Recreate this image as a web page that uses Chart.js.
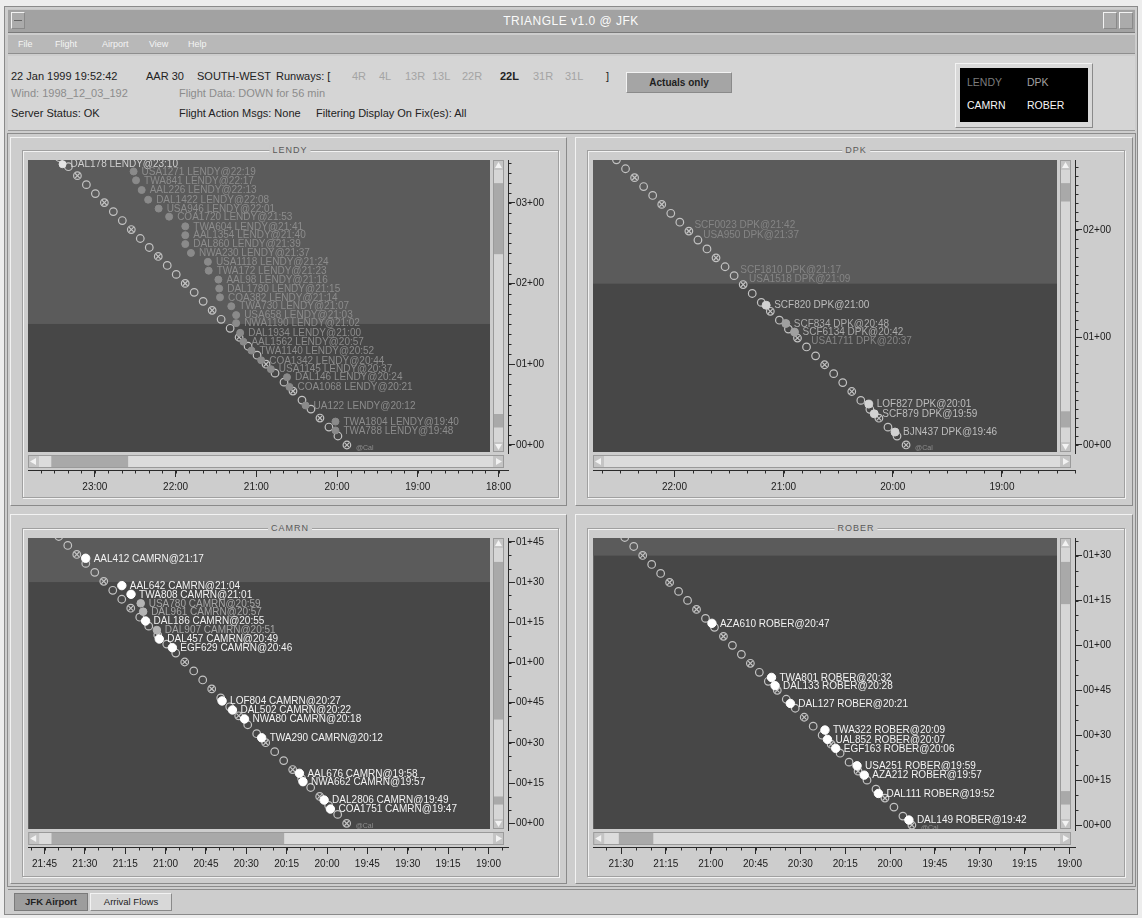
<!DOCTYPE html>
<html>
<head>
<meta charset="utf-8">
<title>TRIANGLE v1.0 @ JFK</title>
<script src="https://cdn.jsdelivr.net/npm/chart.js@4.4.1/dist/chart.umd.min.js"></script>
<style>
body { margin:0; width:1142px; height:918px; background:#ededed; position:relative; overflow:hidden;
       font-family:"Liberation Sans", Arial, sans-serif; }
.abs { position:absolute; white-space:nowrap; }
.txt { font-size:11px; line-height:14px; color:#222; }
.dim { color:#8c8c8c; }
.light { color:#a4a4a4; }
.raised { border-top:1px solid #f2f2f2; border-left:1px solid #f2f2f2; border-right:1px solid #8a8a8a; border-bottom:1px solid #8a8a8a; box-sizing:border-box; }
.groove { border:1px solid #a0a0a0; box-shadow:1px 1px 0 #f2f2f2, inset 1px 1px 0 #f2f2f2; box-sizing:border-box; }
.ftitle { font-size:9px; line-height:10px; color:#5a5a5a; letter-spacing:1px; background:#cdcdcd; padding:0 3px; transform:translateX(-50%); }
canvas { position:absolute; }
</style>
</head>
<body>
<div class="abs" style="left:4px;top:6px;width:1134px;height:909px;background:#cdcdcd;border:1px solid #8a8a8a;box-sizing:border-box;"></div>

<!-- title bar -->
<div class="abs" style="left:8px;top:9px;width:1127px;height:24px;background:#a2a2a2;border-top:1px solid #c6c6c6;border-bottom:1px solid #7a7a7a;box-sizing:border-box;"></div>
<div class="abs raised" style="left:11px;top:12px;width:14px;height:17px;background:#ababab;"></div>
<div class="abs" style="left:14px;top:20px;width:8px;height:1px;background:#666;"></div>
<div class="abs raised" style="left:1103px;top:12px;width:14px;height:17px;background:#ababab;"></div>
<div class="abs raised" style="left:1119px;top:12px;width:14px;height:17px;background:#ababab;"></div>
<div class="abs" style="left:0;top:14px;width:1142px;text-align:center;font-size:12px;line-height:14px;color:#fafafa;letter-spacing:0.5px;">TRIANGLE v1.0 @ JFK</div>

<!-- menu bar -->
<div class="abs" style="left:8px;top:35px;width:1127px;height:19px;background:#b8b8b8;border-bottom:1px solid #8e8e8e;box-sizing:border-box;"></div>
<div class="abs" style="left:18px;top:39px;font-size:9px;line-height:11px;color:#f4f4f4;">File</div>
<div class="abs" style="left:55px;top:39px;font-size:9px;line-height:11px;color:#f4f4f4;">Flight</div>
<div class="abs" style="left:102px;top:39px;font-size:9px;line-height:11px;color:#f4f4f4;">Airport</div>
<div class="abs" style="left:149px;top:39px;font-size:9px;line-height:11px;color:#f4f4f4;">View</div>
<div class="abs" style="left:188px;top:39px;font-size:9px;line-height:11px;color:#f4f4f4;">Help</div>

<!-- status header -->
<div class="abs" style="left:8px;top:56px;width:1127px;height:75px;background:#d5d5d5;border-bottom:1px solid #9a9a9a;box-sizing:border-box;"></div>
<div class="abs txt" style="left:11px;top:69px;">22 Jan 1999 19:52:42</div>
<div class="abs txt" style="left:146px;top:69px;">AAR 30</div>
<div class="abs txt" style="left:197px;top:69px;">SOUTH-WEST</div>
<div class="abs txt" style="left:276px;top:69px;">Runways: [</div>
<div class="abs txt light" style="left:352px;top:69px;">4R</div>
<div class="abs txt light" style="left:379px;top:69px;">4L</div>
<div class="abs txt light" style="left:405px;top:69px;">13R</div>
<div class="abs txt light" style="left:432px;top:69px;">13L</div>
<div class="abs txt light" style="left:462px;top:69px;">22R</div>
<div class="abs txt" style="left:500px;top:69px;font-weight:bold;">22L</div>
<div class="abs txt light" style="left:533px;top:69px;">31R</div>
<div class="abs txt light" style="left:565px;top:69px;">31L</div>
<div class="abs txt" style="left:606px;top:69px;">]</div>
<div class="abs txt dim" style="left:11px;top:86px;">Wind: 1998_12_03_192</div>
<div class="abs txt dim" style="left:179px;top:86px;">Flight Data: DOWN for 56 min</div>
<div class="abs txt" style="left:11px;top:106px;">Server Status: OK</div>
<div class="abs txt" style="left:179px;top:106px;">Flight Action Msgs: None</div>
<div class="abs txt" style="left:316px;top:106px;">Filtering Display On Fix(es): All</div>
<div class="abs raised" style="left:626px;top:72px;width:106px;height:21px;background:#a5a5a5;font-size:10px;line-height:19px;text-align:center;font-weight:bold;color:#1e1e1e;">Actuals only</div>

<!-- fix legend -->
<div class="abs raised" style="left:955px;top:63px;width:138px;height:65px;background:#d9d9d9;"></div>
<div class="abs" style="left:960px;top:68px;width:128px;height:54px;background:#000;"></div>
<div class="abs" style="left:967px;top:76px;font-size:10.5px;line-height:12px;color:#7c7c7c;">LENDY</div>
<div class="abs" style="left:1027px;top:76px;font-size:10.5px;line-height:12px;color:#a0a0a0;">DPK</div>
<div class="abs" style="left:967px;top:99px;font-size:10.5px;line-height:12px;color:#f6f6f6;">CAMRN</div>
<div class="abs" style="left:1027px;top:99px;font-size:10.5px;line-height:12px;color:#f6f6f6;">ROBER</div>

<!-- panel boxes -->
<div class="abs" style="left:7px;top:133px;width:1129px;height:754px;border:1px solid #8c8c8c;box-sizing:border-box;"></div>
<div class="abs raised" style="left:10px;top:137px;width:557px;height:369px;"></div>
<div class="abs raised" style="left:575px;top:137px;width:558px;height:369px;"></div>
<div class="abs raised" style="left:10px;top:514px;width:557px;height:370px;"></div>
<div class="abs raised" style="left:575px;top:514px;width:558px;height:370px;"></div>
<div class="abs groove" style="left:22px;top:150px;width:537px;height:348px;"></div>
<div class="abs groove" style="left:587px;top:150px;width:538px;height:348px;"></div>
<div class="abs groove" style="left:22px;top:528px;width:537px;height:349px;"></div>
<div class="abs groove" style="left:587px;top:528px;width:538px;height:349px;"></div>
<div class="abs ftitle" style="left:290px;top:145px;">LENDY</div>
<div class="abs ftitle" style="left:856px;top:145px;">DPK</div>
<div class="abs ftitle" style="left:290px;top:523px;">CAMRN</div>
<div class="abs ftitle" style="left:856px;top:523px;">ROBER</div>

<canvas id="lendy"></canvas>
<canvas id="dpk"></canvas>
<canvas id="camrn"></canvas>
<canvas id="rober"></canvas>

<!-- tabs -->
<div class="abs" style="left:8px;top:889px;width:1127px;height:1px;background:#8c8c8c;"></div>
<div class="abs" style="left:14px;top:893px;width:74px;height:18px;background:#9d9d9d;border:1px solid #7a7a7a;box-sizing:border-box;font-size:9.5px;line-height:16px;text-align:center;font-weight:bold;color:#222;">JFK Airport</div>
<div class="abs raised" style="left:90px;top:893px;width:82px;height:18px;background:#d8d8d8;font-size:9.5px;line-height:16px;text-align:center;color:#222;">Arrival Flows</div>

<script>
// time of the snapshot
const nowClock = "19:52:42";
// hours to go where the lighter band starts
const horizonToGo = 1.5;

// LENDY
const lendyXTicks = ["23:00", "22:00", "21:00", "20:00", "19:00", "18:00"];
const lendyYTicks = ["00+00", "01+00", "02+00", "03+00"];
const lendyFlights = [
    "DAL178 LENDY@23:10", "USA1271 LENDY@22:19", "TWA841 LENDY@22:17", "AAL226 LENDY@22:13",
    "DAL1422 LENDY@22:08", "USA946 LENDY@22:01", "COA1720 LENDY@21:53", "TWA604 LENDY@21:41",
    "AAL1354 LENDY@21:40", "DAL860 LENDY@21:39", "NWA230 LENDY@21:37", "USA1118 LENDY@21:24",
    "TWA172 LENDY@21:23", "AAL98 LENDY@21:16", "DAL1780 LENDY@21:15", "COA382 LENDY@21:14",
    "TWA730 LENDY@21:07", "USA658 LENDY@21:03", "NWA1190 LENDY@21:02", "DAL1934 LENDY@21:00",
    "AAL1562 LENDY@20:57", "TWA1140 LENDY@20:52", "COA1342 LENDY@20:44", "USA1145 LENDY@20:37",
    "DAL146 LENDY@20:24", "COA1068 LENDY@20:21", "UA122 LENDY@20:12", "TWA1804 LENDY@19:40",
    "TWA788 LENDY@19:48"
];
const lendyLanding = [
    23.40, 22.52, 22.49, 22.42, 22.34, 22.21, 22.08, 21.88, 21.88, 21.88,
    21.81, 21.60, 21.59, 21.47, 21.46, 21.45, 21.31, 21.25, 21.25, 21.20,
    21.16, 21.06, 20.94, 20.82, 20.62, 20.59, 20.39, 20.02, 20.02
];
const lendyToGo = [
    3.48, 3.39, 3.28, 3.16, 3.04, 2.93, 2.83, 2.71, 2.60, 2.49,
    2.38, 2.27, 2.16, 2.05, 1.94, 1.83, 1.72, 1.61, 1.51, 1.39,
    1.28, 1.17, 1.05, 0.94, 0.84, 0.72, 0.49, 0.29, 0.18
];
const lendyStatus = ["actual"].concat(new Array(28).fill("proposed"));

// DPK
const dpkXTicks = ["22:00", "21:00", "20:00", "19:00"];
const dpkYTicks = ["00+00", "01+00", "02+00"];
const dpkFlights = [
    "SCF0023 DPK@21:42", "USA950 DPK@21:37", "SCF1810 DPK@21:17", "USA1518 DPK@21:09",
    "SCF820 DPK@21:00", "SCF834 DPK@20:48", "SCF6134 DPK@20:42", "USA1711 DPK@20:37",
    "LOF827 DPK@20:01", "SCF879 DPK@19:59", "BJN437 DPK@19:46"
];
const dpkLanding = [21.89, 21.81, 21.47, 21.39, 21.16, 20.98, 20.90, 20.82, 20.22, 20.17, 19.98];
const dpkToGo = [2.05, 1.96, 1.63, 1.55, 1.30, 1.13, 1.05, 0.97, 0.38, 0.29, 0.12];
const dpkStatus = ["proposed", "proposed", "proposed", "proposed", "actual", "planned",
    "planned", "proposed", "actual", "actual", "actual"];

// CAMRN
const camrnXTicks = ["21:45", "21:30", "21:15", "21:00", "20:45", "20:30", "20:15", "20:00",
    "19:45", "19:30", "19:15", "19:00"];
const camrnYTicks = ["00+00", "00+15", "00+30", "00+45", "01+00", "01+15", "01+30", "01+45"];
const camrnFlights = [
    "AAL412 CAMRN@21:17", "AAL642 CAMRN@21:04", "TWA808 CAMRN@21:01", "USA780 CAMRN@20:59",
    "DAL961 CAMRN@20:57", "DAL186 CAMRN@20:55", "DAL907 CAMRN@20:51", "DAL457 CAMRN@20:49",
    "EGF629 CAMRN@20:46", "LOF804 CAMRN@20:27", "DAL502 CAMRN@20:22", "NWA80 CAMRN@20:18",
    "TWA290 CAMRN@20:12", "AAL676 CAMRN@19:58", "NWA662 CAMRN@19:57", "DAL2806 CAMRN@19:49",
    "COA1751 CAMRN@19:47"
];
const camrnLanding = [21.495, 21.271, 21.214, 21.154, 21.139, 21.124, 21.054, 21.039, 20.958,
    20.650, 20.586, 20.511, 20.405, 20.171, 20.149, 20.018, 19.979];
const camrnToGo = [1.648, 1.478, 1.424, 1.368, 1.316, 1.258, 1.202, 1.146, 1.092,
    0.761, 0.705, 0.649, 0.532, 0.311, 0.259, 0.145, 0.089];
const camrnStatus = ["actual", "actual", "actual", "proposed", "proposed", "actual", "proposed",
    "actual", "actual", "actual", "actual", "actual", "actual", "actual", "actual", "actual", "actual"];

// ROBER
const roberXTicks = ["21:30", "21:15", "21:00", "20:45", "20:30", "20:15", "20:00", "19:45",
    "19:30", "19:15", "19:00"];
const roberYTicks = ["00+00", "00+15", "00+30", "00+45", "01+00", "01+15", "01+30"];
const roberFlights = [
    "AZA610 ROBER@20:47", "TWA801 ROBER@20:32", "DAL133 ROBER@20:28", "DAL127 ROBER@20:21",
    "TWA322 ROBER@20:09", "UAL852 ROBER@20:07", "EGF163 ROBER@20:06", "USA251 ROBER@19:59",
    "AZA212 ROBER@19:57", "DAL111 ROBER@19:52", "DAL149 ROBER@19:42"
];
const roberLanding = [20.993, 20.661, 20.641, 20.556, 20.363, 20.349, 20.303, 20.184, 20.144, 20.065, 19.895];
const roberToGo = [1.123, 0.822, 0.776, 0.677, 0.529, 0.477, 0.427, 0.330, 0.278, 0.176, 0.028];
const roberStatus = new Array(11).fill("actual");


const clockToHours = s => {
    const p = s.split(":").map(Number);
    return p[0] + p[1] / 60 + (p[2] || 0) / 3600;
};
const toGoToHours = s => {
    const p = s.split("+").map(Number);
    return p[0] + p[1] / 60;
};

// screen layout of each panel (chart area incl. scrollbars) and its look
const panels = [
    {
        id: "lendy", left: 27, top: 160, right: 508, bottom: 470,
        xRange: [17.883, 23.828], yRange: [-0.310, 3.532], xMinor: 1 / 6, yMinor: 1 / 8,
        vThumbs: [[0.045, 0.308], [0.90, 0.95]], hThumb: [0.025, 0.195],
        xTicks: lendyXTicks, yTicks: lendyYTicks,
        flights: lendyFlights, landing: lendyLanding, toGo: lendyToGo, status: lendyStatus,
        look: {
            actual: { dot: "#e4e4e4", text: "#cfcfcf", r: 3.5 },
            proposed: { dot: "#8a8a8a", text: "#8c8c8c", r: 3.5 }
        }
    },
    {
        id: "dpk", left: 592, top: 160, right: 1075, bottom: 470,
        xRange: [18.331, 22.746], yRange: [-0.233, 2.651], xMinor: 1 / 6, yMinor: 1 / 12,
        vThumbs: [[0.045, 0.113], [0.89, 0.95]], hThumb: null,
        xTicks: dpkXTicks, yTicks: dpkYTicks,
        flights: dpkFlights, landing: dpkLanding, toGo: dpkToGo, status: dpkStatus,
        look: {
            actual: { dot: "#d2d2d2", text: "#bdbdbd", r: 4 },
            planned: { dot: "#a0a0a0", text: "#aaaaaa", r: 4 },
            proposed: { dot: "rgba(0,0,0,0)", text: "#858585", r: 4 }
        }
    },
    {
        id: "camrn", left: 27, top: 538, right: 508, bottom: 847,
        xRange: [18.879, 21.851], yRange: [-0.147, 1.774], xMinor: 1 / 12, yMinor: 1 / 12,
        vThumbs: [[0.048, 0.634], [0.92, 0.95]], hThumb: [0.025, 0.54],
        xTicks: camrnXTicks, yTicks: camrnYTicks,
        flights: camrnFlights, landing: camrnLanding, toGo: camrnToGo, status: camrnStatus,
        look: {
            actual: { dot: "#ffffff", text: "#f2f2f2", r: 4.2 },
            proposed: { dot: "#b4b4b4", text: "#a6a6a6", r: 3.8 }
        }
    },
    {
        id: "rober", left: 592, top: 538, right: 1075, bottom: 847,
        xRange: [18.969, 21.655], yRange: [-0.122, 1.598], xMinor: 1 / 12, yMinor: 1 / 12,
        vThumbs: [[0.048, 0.205], [0.90, 0.95]], hThumb: [0.03, 0.106],
        xTicks: roberXTicks, yTicks: roberYTicks,
        flights: roberFlights, landing: roberLanding, toGo: roberToGo, status: roberStatus,
        look: {
            actual: { dot: "#ffffff", text: "#f2f2f2", r: 4.2 }
        }
    }
];

const AxisW = 48;
const AxisH = 32;
const PadL = 4;
const PadT = 8;
const LabelFont = "10px 'Liberation Sans', Arial, sans-serif";

const plotOf = a => ({ l: a.left, t: a.top, r: a.right - 18, b: a.bottom - 18 });

const makePainter = cfg => ({
    id: "painter_" + cfg.id,

    beforeDatasetsDraw(chart) {
        const c = chart.ctx;
        const a = chart.chartArea;
        const p = plotOf(a);
        const ys = chart.scales.y;

        c.save();
        // background, lighter band beyond the horizon
        c.fillStyle = "#474747";
        c.fillRect(p.l, p.t, p.r - p.l, p.b - p.t);
        const yb = Math.max(p.t, Math.min(p.b, ys.getPixelForValue(horizonToGo)));
        c.fillStyle = "#5b5b5b";
        c.fillRect(p.l, p.t, p.r - p.l, yb - p.t);

        // vertical scrollbar
        const vx = a.right - 15, vw = 11;
        c.fillStyle = "#d6d6d6";
        c.fillRect(vx, p.t, vw, p.b - p.t);
        c.fillStyle = "#a9a9a9";
        const tr = p.b - p.t - 22;
        cfg.vThumbs.forEach(th => c.fillRect(vx + 1, p.t + 11 + th[0] * tr, vw - 2, (th[1] - th[0]) * tr));
        c.fillStyle = "#c4c4c4";
        c.fillRect(vx, p.t, vw, 10);
        c.fillRect(vx, p.b - 10, vw, 10);
        c.fillStyle = "#f2f2f2";
        c.beginPath(); c.moveTo(vx + 5.5, p.t + 2); c.lineTo(vx + 9, p.t + 8); c.lineTo(vx + 2, p.t + 8); c.fill();
        c.beginPath(); c.moveTo(vx + 5.5, p.b - 2); c.lineTo(vx + 9, p.b - 8); c.lineTo(vx + 2, p.b - 8); c.fill();

        // horizontal scrollbar
        const hy = a.bottom - 15, hh = 13;
        c.fillStyle = "#dcdcdc";
        c.fillRect(p.l, hy, a.right - 4 - p.l, hh);
        if (cfg.hThumb) {
            const hw = a.right - 4 - p.l - 24;
            c.fillStyle = "#a9a9a9";
            c.fillRect(p.l + 12 + cfg.hThumb[0] * hw, hy + 1, (cfg.hThumb[1] - cfg.hThumb[0]) * hw, hh - 2);
        }
        c.fillStyle = "#c4c4c4";
        c.fillRect(p.l, hy, 11, hh);
        c.fillRect(a.right - 15, hy, 11, hh);
        c.fillStyle = "#f2f2f2";
        c.beginPath(); c.moveTo(p.l + 2, hy + 6.5); c.lineTo(p.l + 8, hy + 3); c.lineTo(p.l + 8, hy + 10); c.fill();
        c.beginPath(); c.moveTo(a.right - 6, hy + 6.5); c.lineTo(a.right - 12, hy + 3); c.lineTo(a.right - 12, hy + 10); c.fill();
        c.strokeStyle = "#9a9a9a";
        c.lineWidth = 1;
        c.strokeRect(p.l + 0.5, hy + 0.5, a.right - 5 - p.l, hh - 1);
        c.strokeRect(vx + 0.5, p.t + 0.5, vw - 1, p.b - p.t - 1);

        // chain of slot circles along the landing line
        const meta = chart.getDatasetMeta(0);
        const p0 = meta.data[0], p1 = meta.data[1];
        c.beginPath();
        c.rect(p.l, p.t, p.r - p.l, p.b - p.t);
        c.clip();
        const dx = p1.x - p0.x, dy = p1.y - p0.y, len = Math.hypot(dx, dy);
        const ux = dx / len, uy = dy / len;
        c.strokeStyle = "#c3c3c3";
        c.lineWidth = 1.2;
        for (let k = 0, d = 0; d <= len + 8; k++, d += 12.7) {
            const x = p0.x + ux * d, y = p0.y + uy * d;
            c.beginPath();
            c.arc(x, y, 3.8, 0, Math.PI * 2);
            c.stroke();
            if (k % 3 === 0) {
                c.beginPath();
                c.moveTo(x - 2.4, y - 2.4); c.lineTo(x + 2.4, y + 2.4);
                c.moveTo(x + 2.4, y - 2.4); c.lineTo(x - 2.4, y + 2.4);
                c.stroke();
            }
        }
        c.restore();
    },

    afterDatasetsDraw(chart) {
        const c = chart.ctx;
        const p = plotOf(chart.chartArea);
        const meta = chart.getDatasetMeta(1);
        const now = chart.getDatasetMeta(0).data[0];

        c.save();
        c.beginPath();
        c.rect(p.l, p.t, p.r - p.l, p.b - p.t);
        c.clip();
        c.font = LabelFont;
        c.textBaseline = "middle";
        meta.data.forEach((pt, i) => {
            c.fillStyle = cfg.look[cfg.status[i]].text;
            c.fillText(cfg.flights[i], pt.x + 8, pt.y + 0.5);
        });
        c.font = "7px 'Liberation Sans', Arial, sans-serif";
        c.fillStyle = "#8e8e8e";
        c.fillText("@Cal", now.x + 9, now.y + 3);
        c.restore();
    },

    afterDraw(chart) {
        const c = chart.ctx;
        const a = chart.chartArea;
        const p = plotOf(a);
        const xs = chart.scales.x, ys = chart.scales.y;

        c.save();
        c.strokeStyle = "#2a2a2a";
        c.lineWidth = 1;
        // right axis line only along the plot
        c.beginPath();
        c.moveTo(a.right + 0.5, p.t);
        c.lineTo(a.right + 0.5, p.b + 2);
        c.stroke();
        // minor ticks
        c.beginPath();
        for (let v = Math.ceil(cfg.xRange[0] / cfg.xMinor); v * cfg.xMinor <= cfg.xRange[1]; v++) {
            const x = Math.round(xs.getPixelForValue(v * cfg.xMinor)) + 0.5;
            c.moveTo(x, a.bottom);
            c.lineTo(x, a.bottom + 3.5);
        }
        for (let v = Math.ceil(cfg.yRange[0] / cfg.yMinor); v * cfg.yMinor <= cfg.yRange[1]; v++) {
            const y = Math.round(ys.getPixelForValue(v * cfg.yMinor)) + 0.5;
            if (y < p.t || y > p.b) continue;
            c.moveTo(a.right, y);
            c.lineTo(a.right + 3.5, y);
        }
        c.stroke();
        c.restore();
    }
});

const buildPanel = cfg => {
    const canvas = document.getElementById(cfg.id);
    const cl = cfg.left - PadL, ct = cfg.top - PadT;
    canvas.width = cfg.right - cl + AxisW;
    canvas.height = cfg.bottom - ct + AxisH;
    canvas.style.left = cl + "px";
    canvas.style.top = ct + "px";

    const nowH = clockToHours(nowClock);
    const top = cfg.yRange[1];
    const points = cfg.landing.map((t, i) => ({ x: t, y: cfg.toGo[i] }));
    const dots = cfg.status.map(s => cfg.look[s].dot);
    const radii = cfg.status.map(s => cfg.look[s].r);
    const tickFont = { family: "'Liberation Sans', Arial, sans-serif", size: 10 };

    return new Chart(canvas, {
        type: "scatter",
        data: {
            datasets: [
                {
                    type: "line",
                    data: [{ x: nowH, y: 0 }, { x: nowH + top, y: top }],
                    borderWidth: 0,
                    pointRadius: 0,
                    showLine: false,
                },
                {
                    data: points,
                    pointRadius: radii,
                    pointBackgroundColor: dots,
                    pointBorderColor: dots,
                    pointBorderWidth: 1,
                }
            ]
        },
        options: {
            responsive: false,
            animation: false,
            events: [],
            layout: { padding: { left: PadL, top: PadT, right: 0, bottom: 0 } },
            plugins: { legend: { display: false }, tooltip: { enabled: false } },
            scales: {
                x: {
                    type: "linear",
                    position: "bottom",
                    reverse: true,
                    min: cfg.xRange[0],
                    max: cfg.xRange[1],
                    afterFit: s => { s.height = AxisH; },
                    afterBuildTicks: s => { s.ticks = cfg.xTicks.map(t => ({ value: clockToHours(t) })); },
                    ticks: {
                        callback: (v, i) => cfg.xTicks[i],
                        color: "#202020", font: tickFont, padding: 4,
                        maxRotation: 0, autoSkip: false
                    },
                    grid: { drawOnChartArea: false, drawTicks: true, tickLength: 7, color: "#2a2a2a" },
                    border: { display: true, color: "#2a2a2a" }
                },
                y: {
                    type: "linear",
                    position: "right",
                    min: cfg.yRange[0],
                    max: cfg.yRange[1],
                    afterFit: s => { s.width = AxisW; },
                    afterBuildTicks: s => { s.ticks = cfg.yTicks.map(t => ({ value: toGoToHours(t) })); },
                    ticks: {
                        callback: (v, i) => cfg.yTicks[i],
                        color: "#202020", font: tickFont, padding: 1, autoSkip: false
                    },
                    grid: { drawOnChartArea: false, drawTicks: true, tickLength: 7, color: "#2a2a2a" },
                    border: { display: false }
                }
            }
        },
        plugins: [makePainter(cfg)]
    });
};

panels.forEach(buildPanel);
</script>
</body>
</html>
